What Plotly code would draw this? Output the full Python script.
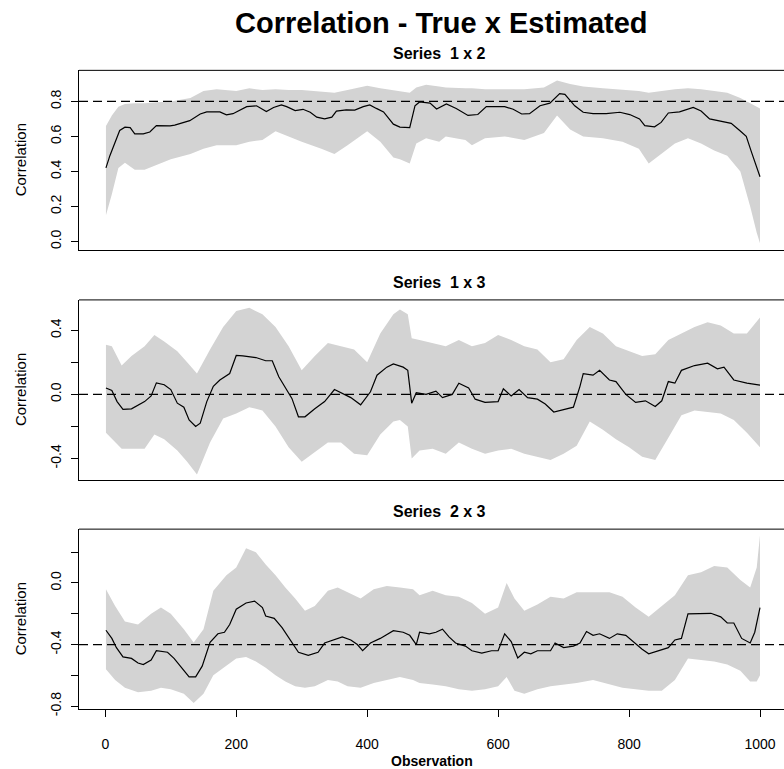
import plotly.graph_objects as go

# ---------------- data ----------------
p1_obs = [1,7,22,30,38,45,58,68,78,99,106,117,129,145,155,175,185,195,216,231,
          246,257,269,277,290,302,313,323,335,346,353,368,381,394,404,414,425,440,450,465,
          473,480,496,506,521,536,554,569,582,610,623,636,648,664,679,694,702,717,730,745,
          765,786,801,816,824,839,849,860,877,898,910,923,944,956,969,979,987,994,1000]
p1_est = [0.42,0.49,0.634,0.653,0.65,0.615,0.615,0.625,0.662,0.66,0.665,0.675,0.69,0.728,0.74,0.74,0.723,0.73,0.77,0.775,
          0.742,0.765,0.78,0.77,0.748,0.755,0.738,0.71,0.70,0.71,0.745,0.752,0.75,0.77,0.78,0.76,0.74,0.67,0.653,0.65,
          0.775,0.797,0.79,0.757,0.785,0.76,0.72,0.725,0.77,0.77,0.755,0.728,0.73,0.775,0.79,0.845,0.84,0.775,0.738,0.73,
          0.73,0.738,0.725,0.70,0.662,0.655,0.68,0.734,0.74,0.766,0.745,0.70,0.685,0.675,0.634,0.60,0.51,0.435,0.37]
p1_band_obs = [1,10,20,30,45,60,80,100,130,150,170,200,220,240,260,280,300,330,350,370,
               400,420,440,450,465,475,490,510,520,550,560,580,610,640,670,690,710,730,760,790,
               815,830,850,870,890,910,930,950,970,985,995,1000]
p1_upper = [0.66,0.72,0.77,0.785,0.79,0.79,0.795,0.8,0.82,0.86,0.87,0.86,0.875,0.865,0.87,0.865,0.865,0.855,0.85,0.865,
            0.89,0.875,0.865,0.86,0.85,0.88,0.895,0.885,0.88,0.875,0.875,0.87,0.87,0.87,0.88,0.92,0.9,0.885,0.875,0.865,
            0.86,0.85,0.86,0.87,0.875,0.87,0.86,0.85,0.82,0.79,0.77,0.76]
p1_lower = [0.15,0.27,0.42,0.45,0.41,0.41,0.44,0.47,0.5,0.53,0.55,0.55,0.57,0.58,0.63,0.6,0.57,0.53,0.5,0.55,
            0.63,0.57,0.48,0.47,0.445,0.56,0.59,0.57,0.6,0.58,0.55,0.59,0.6,0.58,0.62,0.72,0.64,0.6,0.59,0.57,
            0.53,0.445,0.5,0.56,0.59,0.56,0.52,0.49,0.4,0.2,0.05,-0.01]

p2_obs = [1,10,18,27,40,60,70,78,90,100,110,120,128,138,145,155,165,175,190,200,
          210,230,245,255,265,285,295,305,320,335,350,360,375,390,405,415,430,440,455,462,
          468,475,490,505,515,530,540,555,565,580,600,608,620,632,645,660,672,685,700,715,
          725,730,745,755,770,780,795,810,825,840,850,860,870,880,900,920,935,945,960,980,1000]
p2_est = [0.04,0.025,-0.045,-0.093,-0.09,-0.045,-0.01,0.072,0.06,0.03,-0.055,-0.08,-0.16,-0.2,-0.18,-0.045,0.05,0.09,0.13,0.243,
          0.24,0.23,0.21,0.21,0.11,-0.025,-0.14,-0.14,-0.09,-0.045,0.03,0.01,-0.02,-0.065,0.016,0.12,0.17,0.19,0.17,0.15,
          -0.055,0.01,0.0,0.02,-0.02,0.0,0.07,0.04,-0.03,-0.05,-0.045,0.035,-0.01,0.03,-0.02,-0.03,-0.06,-0.11,-0.095,-0.08,
          0.05,0.13,0.12,0.15,0.09,0.08,0.0,-0.05,-0.04,-0.075,-0.04,0.08,0.07,0.15,0.18,0.195,0.16,0.17,0.09,0.07,0.058]
p2_band_obs = [1,10,25,40,60,75,90,110,125,140,160,180,200,220,240,260,280,300,320,340,
               360,380,400,420,440,450,462,468,480,500,520,540,560,580,600,620,640,660,680,700,
               720,740,760,780,800,820,840,860,880,900,920,940,960,980,1000]
p2_upper = [0.31,0.3,0.18,0.24,0.3,0.37,0.33,0.27,0.2,0.13,0.28,0.42,0.52,0.54,0.5,0.42,0.3,0.15,0.24,0.32,
            0.3,0.28,0.2,0.38,0.5,0.53,0.5,0.35,0.34,0.32,0.3,0.34,0.3,0.32,0.37,0.34,0.3,0.28,0.2,0.22,
            0.34,0.42,0.38,0.3,0.27,0.24,0.25,0.34,0.38,0.42,0.45,0.43,0.38,0.38,0.48]
p2_lower = [-0.24,-0.28,-0.34,-0.34,-0.34,-0.25,-0.28,-0.35,-0.42,-0.5,-0.3,-0.15,-0.12,-0.08,-0.1,-0.2,-0.33,-0.42,-0.36,-0.3,
            -0.3,-0.37,-0.38,-0.25,-0.17,-0.16,-0.2,-0.4,-0.35,-0.34,-0.37,-0.3,-0.34,-0.37,-0.35,-0.34,-0.37,-0.39,-0.41,-0.37,
            -0.32,-0.17,-0.22,-0.28,-0.33,-0.39,-0.41,-0.27,-0.13,-0.1,-0.11,-0.12,-0.16,-0.24,-0.33]

p3_obs = [1,10,17,27,40,50,58,70,78,95,105,118,128,138,148,160,172,182,190,200,
          215,228,240,245,258,270,282,295,310,325,335,350,362,375,385,393,405,420,440,455,
          465,475,480,495,505,515,525,535,550,560,575,590,600,610,620,630,640,650,660,680,
          687,700,715,725,735,745,755,770,782,795,808,820,830,845,860,870,880,890,905,925,
          940,950,960,972,985,992,1000]
p3_est = [-0.307,-0.36,-0.42,-0.48,-0.49,-0.52,-0.53,-0.5,-0.44,-0.45,-0.49,-0.56,-0.61,-0.61,-0.54,-0.386,-0.33,-0.32,-0.27,-0.17,
          -0.13,-0.118,-0.16,-0.215,-0.23,-0.29,-0.37,-0.45,-0.47,-0.45,-0.39,-0.37,-0.35,-0.37,-0.4,-0.44,-0.39,-0.36,-0.31,-0.32,
          -0.34,-0.4,-0.32,-0.33,-0.32,-0.3,-0.35,-0.39,-0.41,-0.44,-0.455,-0.44,-0.44,-0.33,-0.38,-0.487,-0.45,-0.46,-0.44,-0.44,
          -0.39,-0.42,-0.41,-0.39,-0.315,-0.34,-0.33,-0.36,-0.33,-0.34,-0.39,-0.43,-0.46,-0.44,-0.42,-0.37,-0.36,-0.2,-0.2,-0.197,
          -0.22,-0.26,-0.26,-0.36,-0.39,-0.32,-0.16]
p3_band_obs = [1,15,30,50,70,85,100,120,135,150,165,185,200,215,230,245,260,275,290,305,
               320,340,355,370,390,410,430,450,470,480,500,520,540,560,580,600,613,625,640,660,
               680,700,720,745,770,790,810,830,850,870,890,910,930,950,970,985,995,1000]
p3_upper = [-0.04,-0.15,-0.25,-0.27,-0.2,-0.16,-0.2,-0.3,-0.386,-0.3,-0.05,0.05,0.1,0.225,0.2,0.12,0.05,-0.03,-0.1,-0.18,
            -0.15,-0.05,-0.03,-0.06,-0.1,-0.04,-0.02,-0.03,-0.04,-0.08,-0.05,-0.08,-0.09,-0.13,-0.2,-0.16,0.0,-0.1,-0.18,-0.14,
            -0.09,-0.1,-0.06,-0.06,-0.06,-0.09,-0.16,-0.22,-0.15,-0.08,0.05,0.07,0.11,0.1,0.02,-0.03,0.1,0.31]
p3_lower = [-0.56,-0.63,-0.68,-0.71,-0.7,-0.68,-0.69,-0.72,-0.78,-0.72,-0.6,-0.54,-0.49,-0.48,-0.51,-0.55,-0.6,-0.64,-0.67,-0.68,
            -0.67,-0.63,-0.64,-0.67,-0.68,-0.65,-0.63,-0.61,-0.63,-0.65,-0.66,-0.67,-0.69,-0.7,-0.69,-0.67,-0.61,-0.7,-0.72,-0.69,
            -0.67,-0.66,-0.65,-0.63,-0.66,-0.68,-0.69,-0.7,-0.7,-0.63,-0.49,-0.5,-0.51,-0.53,-0.57,-0.64,-0.64,-0.6]

true_values = [0.8, 0.0, -0.4]
panel_titles = ["Series  1 x 2", "Series  1 x 3", "Series  2 x 3"]
main_title = "Correlation - True x Estimated"
x_title = "Observation"
y_title = "Correlation"
x_ticks = [0, 200, 400, 600, 800, 1000]
y_ticks = [[0.0, 0.2, 0.4, 0.6, 0.8],
           [-0.4, -0.2, 0.0, 0.2, 0.4],
           [-0.8, -0.6, -0.4, -0.2, 0.0, 0.2]]
y_ticktext = [["0.0", "0.2", "0.4", "0.6", "0.8"],
              ["-0.4", "", "0.0", "", "0.4"],
              ["-0.8", "", "-0.4", "", "0.0", ""]]

# ---------------- layout geometry ----------------
W, H = 784, 769
FONT = "Liberation Sans, Arial, sans-serif"
BAND = "#D3D3D3"
plot_left_px = 79
panels_px = [(71, 252.67), (302.67, 484.67), (534, 716)]   # top, bottom
y_ranges = [[-0.0509, 0.9774], [-0.536, 0.5897], [-0.8215, 0.3496]]
x_range = [-40.17, 1036.66]

fig = go.Figure()

series = [
    (p1_obs, p1_est, p1_band_obs, p1_upper, p1_lower),
    (p2_obs, p2_est, p2_band_obs, p2_upper, p2_lower),
    (p3_obs, p3_est, p3_band_obs, p3_upper, p3_lower),
]

for i, (obs, est, bobs, up, lo) in enumerate(series):
    xa = "x" if i == 0 else f"x{i+1}"
    ya = "y" if i == 0 else f"y{i+1}"
    fig.add_trace(go.Scatter(x=bobs, y=lo, mode="lines", line=dict(width=0, color=BAND),
                             xaxis=xa, yaxis=ya, showlegend=False, hoverinfo="skip"))
    fig.add_trace(go.Scatter(x=bobs, y=up, mode="lines", line=dict(width=0, color=BAND),
                             fill="tonexty", fillcolor=BAND,
                             xaxis=xa, yaxis=ya, showlegend=False, hoverinfo="skip"))
    fig.add_trace(go.Scatter(x=obs, y=est, mode="lines", line=dict(width=1.2, color="black"),
                             xaxis=xa, yaxis=ya, showlegend=False))

layout = dict(
    width=W, height=H,
    margin=dict(l=0, r=0, t=0, b=0),
    paper_bgcolor="white", plot_bgcolor="white",
    font=dict(family=FONT, size=14, color="black"),
    showlegend=False,
)

shapes = []
annotations = []
for i, (top, bot) in enumerate(panels_px):
    sfx = "" if i == 0 else str(i + 1)
    dom_y = [1 - bot / H, 1 - top / H]
    layout["xaxis" + sfx] = dict(
        domain=[plot_left_px / W, 1], range=x_range, anchor="y" + sfx,
        showgrid=False, zeroline=False, showline=True, linecolor="black", linewidth=1,
        ticks="outside" if i == 2 else "", ticklen=7, tickwidth=1, tickcolor="black",
        tickvals=x_ticks if i == 2 else [], showticklabels=(i == 2),
        tickfont=dict(size=14, family=FONT, color="black"),
        ticklabelstandoff=15,
    )
    layout["yaxis" + sfx] = dict(
        domain=dom_y, range=y_ranges[i], anchor="x" + sfx,
        showgrid=False, zeroline=False, showline=True, linecolor="black", linewidth=1,
        ticks="outside", ticklen=7, tickwidth=1, tickcolor="black",
        tickvals=y_ticks[i], ticktext=y_ticktext[i], tickangle=-90,
        tickfont=dict(size=14, family=FONT, color="black"),
        ticklabelstandoff=4,
    )
    # top border
    shapes.append(dict(type="line", xref=f"x{sfx} domain", yref=f"y{sfx} domain",
                       x0=0, x1=1, y0=1, y1=1, line=dict(color="black", width=1)))
    # reference (true) value dashed line
    shapes.append(dict(type="line", xref=f"x{sfx} domain", yref="y" + sfx,
                       x0=0, x1=1, y0=true_values[i], y1=true_values[i],
                       line=dict(color="black", width=1.2, dash="9px,5px")))
    # panel subtitle
    annotations.append(dict(text=f"<b>{panel_titles[i]}</b>", xref="paper", yref="paper",
                            x=440 / W, y=1 - (top - 17.5) / H, xanchor="center", yanchor="middle",
                            showarrow=False, font=dict(size=16, family=FONT, color="black")))
    # y title
    annotations.append(dict(text=y_title, xref="paper", yref="paper",
                            x=20 / W, y=1 - ((top + bot) / 2) / H, xanchor="center", yanchor="middle",
                            textangle=-90, showarrow=False,
                            font=dict(size=15, family=FONT, color="black")))

annotations.append(dict(text=f"<b>{main_title}</b>", xref="paper", yref="paper",
                        x=441.7 / W, y=1 - 23 / H, xanchor="center", yanchor="middle",
                        showarrow=False, font=dict(size=29, family=FONT, color="black")))
annotations.append(dict(text=f"<b>{x_title}</b>", xref="paper", yref="paper",
                        x=431.5 / W, y=1 - 760 / H, xanchor="center", yanchor="middle",
                        yshift=-8,
                        showarrow=False, font=dict(size=14, family=FONT, color="black")))

layout["shapes"] = shapes
layout["annotations"] = annotations
fig.update_layout(**layout)

fig.write_html("out.html")
